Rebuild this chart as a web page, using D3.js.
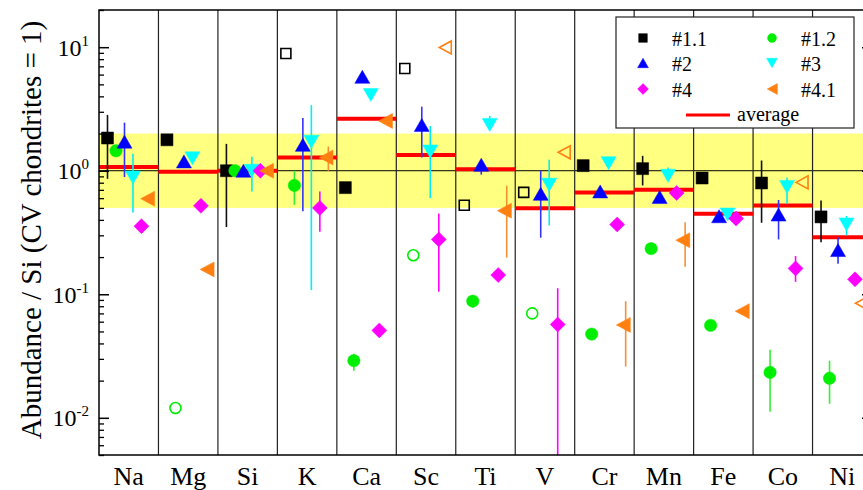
<!DOCTYPE html>
<html>
<head>
<meta charset="utf-8">
<script src="https://cdn.jsdelivr.net/npm/d3@7"></script>
</head>
<body style="margin:0;background:#fff">
<svg id="chart" width="863" height="490" style="display:block"></svg>
<script>
// Elements (columns)
const elements = ["Na", "Mg", "Si", "K", "Ca", "Sc", "Ti", "V", "Cr", "Mn", "Fe", "Co", "Ni"];

// Abundance / Si normalised to CV chondrites, per sample
const s11  = [1.84, 1.78, 1.0, 8.9, 0.73, 6.73, 0.525, 0.668, 1.10, 1.04, 0.873, 0.796, 0.423];
const s12  = [1.45, 0.012, 1.0, 0.76, 0.029, 0.207, 0.088, 0.070, 0.0476, 0.234, 0.056, 0.0233, 0.0209];
const s2   = [1.72, 1.19, 1.0, 1.62, 5.76, 2.35, 1.12, 0.65, 0.68, 0.614, 0.428, 0.442, 0.228];
const s3   = [0.88, 1.26, 1.0, 1.72, 4.1, 1.43, 2.35, 0.77, 1.15, 0.91, 0.442, 0.74, 0.367];
const s4   = [0.356, 0.52, 1.0, 0.50, 0.051, 0.278, 0.143, 0.057, 0.367, 0.66, 0.41, 0.162, 0.132];
const s41  = [0.594, 0.159, 1.0, 1.28, 2.53, 9.95, 0.475, 1.41, 0.0565, 0.274, 0.073, 0.805, 0.0846];
const average = [1.07, 0.98, 1.0, 1.28, 2.63, 1.34, 1.03, 0.497, 0.668, 0.703, 0.448, 0.522, 0.29];

// Error bar bounds (null = no bar)
const lo11 = [0.86, null, 0.35, null, null, null, null, null, null, 0.76, null, 0.379, 0.264];
const hi11 = [2.83, null, 1.65, null, null, null, null, null, null, 1.32, null, 1.21, 0.573];
const lo12 = [null, null, null, 0.53, 0.024, null, 0.078, null, null, null, null, 0.0112, 0.013];
const hi12 = [null, null, null, 1.0, 0.033, null, 0.096, null, null, null, null, 0.0356, 0.029];
const lo2  = [0.89, null, null, 0.47, null, 1.28, 0.93, 0.287, null, 0.58, 0.39, 0.278, 0.177];
const hi2  = [2.45, null, null, 2.67, null, 3.3, 1.15, 1.0, null, 0.65, 0.45, 0.58, 0.29];
const lo3  = [0.46, null, 0.68, 0.108, null, 0.60, 2.2, 0.36, null, 0.85, null, 0.54, 0.30];
const hi3  = [1.37, null, 1.30, 3.4, null, 2.3, 2.78, 1.23, null, 1.06, null, 0.88, 0.43];
const lo4  = [null, null, null, 0.32, null, 0.105, null, 0.003, null, null, null, 0.126, null];
const hi4  = [null, null, null, 0.68, null, 0.45, null, 0.112, null, null, null, 0.204, null];
const lo41 = [null, null, null, 1.0, null, null, 0.198, null, 0.026, 0.167, null, null, null];
const hi41 = [null, null, null, 1.57, null, null, 0.757, null, 0.088, 0.383, null, null, null];

// Hollow symbols (1 = open marker)
const open11 = [0, 0, 0, 1, 0, 1, 1, 1, 0, 0, 0, 0, 0];
const open12 = [0, 1, 0, 0, 0, 1, 0, 1, 0, 0, 0, 0, 0];
const open41 = [0, 0, 0, 0, 0, 1, 0, 1, 0, 0, 0, 1, 1];
const none   = elements.map(() => 0);

// Shaded reference range and axis ticks
const band = [0.5, 2];
const majorTicks = [0.01, 0.1, 1, 10];
const tickExp = ["-2", "-1", "0", "1"];

const series = [
  { key: "#1.1", v: s11, lo: lo11, hi: hi11, open: open11, shape: "square",  color: "#000000", bar: "#111111" },
  { key: "#1.2", v: s12, lo: lo12, hi: hi12, open: open12, shape: "circle",  color: "#00ee00", bar: "#33ee33" },
  { key: "#2",   v: s2,  lo: lo2,  hi: hi2,  open: none,   shape: "up",      color: "#0000ff", bar: "#3333ff" },
  { key: "#3",   v: s3,  lo: lo3,  hi: hi3,  open: none,   shape: "down",    color: "#00ffff", bar: "#00f0f0" },
  { key: "#4",   v: s4,  lo: lo4,  hi: hi4,  open: none,   shape: "diamond", color: "#ff00ff", bar: "#ff00ff" },
  { key: "#4.1", v: s41, lo: lo41, hi: hi41, open: open41, shape: "left",    color: "#ff8010", bar: "#f79030" }
];

const plot = { left: 99, right: 872, top: 10, bottom: 455 };
const svg = d3.select("#chart");

const x = d3.scaleBand().domain(elements).range([plot.left, plot.right]).padding(0);
const y = d3.scaleLog().domain([0.005, 20]).range([plot.bottom, plot.top]);
const bw = x.bandwidth();

svg.append("defs").append("clipPath").attr("id", "plotClip")
  .append("rect")
  .attr("x", plot.left).attr("y", plot.top)
  .attr("width", plot.right - plot.left).attr("height", plot.bottom - plot.top);

const g = svg.append("g").attr("clip-path", "url(#plotClip)");

// Yellow band between 0.5 and 2
g.append("rect")
  .attr("x", plot.left).attr("width", plot.right - plot.left)
  .attr("y", y(band[1])).attr("height", y(band[0]) - y(band[1]))
  .attr("fill", "#ffff80");

// Unity line
g.append("line")
  .attr("x1", plot.left).attr("x2", plot.right)
  .attr("y1", y(1)).attr("y2", y(1))
  .attr("stroke", "#000").attr("stroke-width", 1);

// Column separators
g.selectAll(".sep").data(elements.slice(1)).join("line")
  .attr("class", "sep")
  .attr("x1", d => x(d)).attr("x2", d => x(d))
  .attr("y1", plot.top).attr("y2", plot.bottom)
  .attr("stroke", "#222").attr("stroke-width", 1.2);

// Average per element
g.selectAll(".avg").data(elements).join("line")
  .attr("class", "avg")
  .attr("x1", d => x(d)).attr("x2", d => x(d) + bw)
  .attr("y1", (d, i) => y(average[i])).attr("y2", (d, i) => y(average[i]))
  .attr("stroke", "#ff0000").attr("stroke-width", 4);

// Symbol paths centred on the data point
function shapePath(shape, open, scale) {
  const k = scale || 1;
  if (shape === "square") {
    const s = (open ? 10 : 12) * k;
    return `M${-s / 2},${-s / 2}h${s}v${s}h${-s}Z`;
  }
  if (shape === "circle") {
    const r = (open ? 5.5 : 6.2) * k;
    return `M${r},0A${r},${r} 0 1,1 ${-r},0A${r},${r} 0 1,1 ${r},0Z`;
  }
  if (shape === "up") {
    const w = 15 * k, h = 13 * k;
    return `M0,${-h / 2}L${w / 2},${h / 2}L${-w / 2},${h / 2}Z`;
  }
  if (shape === "down") {
    const w = 15 * k, h = 13 * k;
    return `M0,${h / 2}L${w / 2},${-h / 2}L${-w / 2},${-h / 2}Z`;
  }
  if (shape === "diamond") {
    const s = 15 * k;
    return `M0,${-s / 2}L${s / 2},0L0,${s / 2}L${-s / 2},0Z`;
  }
  // left-pointing triangle, centroid on the point
  const w = (open ? 12 : 14) * k, h = (open ? 13 : 15) * k;
  return `M${-2 * w / 3},0L${w / 3},${-h / 2}L${w / 3},${h / 2}Z`;
}

series.forEach((s, si) => {
  const off = (si + 1) / 7 * bw;
  const pts = elements.map((e, i) => ({ e, i, v: s.v[i], lo: s.lo[i], hi: s.hi[i], open: s.open[i] === 1 }));

  g.selectAll(null).data(pts.filter(p => p.lo != null)).join("line")
    .attr("x1", p => x(p.e) + off).attr("x2", p => x(p.e) + off)
    .attr("y1", p => y(p.hi)).attr("y2", p => y(Math.max(p.lo, 0.001)))
    .attr("stroke", s.bar).attr("stroke-width", 1.6);

  g.selectAll(null).data(pts.filter(p => p.v != null)).join("path")
    .attr("transform", p => `translate(${x(p.e) + off},${y(p.v)})`)
    .attr("d", p => shapePath(s.shape, p.open))
    .attr("fill", p => p.open ? "none" : s.color)
    .attr("stroke", s.color)
    .attr("stroke-width", p => p.open ? 1.6 : 0.5);
});

// Frame
svg.append("rect")
  .attr("x", plot.left).attr("y", plot.top)
  .attr("width", plot.right - plot.left).attr("height", plot.bottom - plot.top)
  .attr("fill", "none").attr("stroke", "#000").attr("stroke-width", 1.5);

// Minor tick values for the log axis
const minorTicks = [];
for (let e = -3; e <= 1; e++) {
  for (let m = 2; m <= 9; m++) {
    const v = m * Math.pow(10, e);
    if (v >= 0.005 && v <= 20) minorTicks.push(v);
  }
}

function drawY(axisFn, xPos) {
  svg.append("g").attr("transform", `translate(${xPos},0)`)
    .call(axisFn(y).tickValues(majorTicks).tickSizeInner(-10).tickSizeOuter(0).tickFormat(() => ""))
    .call(a => a.select(".domain").remove())
    .call(a => a.selectAll("line").attr("stroke-width", 1.5));
  svg.append("g").attr("transform", `translate(${xPos},0)`)
    .call(axisFn(y).tickValues(minorTicks).tickSizeInner(-5).tickSizeOuter(0).tickFormat(() => ""))
    .call(a => a.select(".domain").remove())
    .call(a => a.selectAll("line").attr("stroke-width", 1.3));
}
drawY(d3.axisLeft, plot.left);
drawY(d3.axisRight, plot.right);

// Y tick labels as powers of ten
const yl = svg.append("g");
majorTicks.forEach((t, i) => {
  const txt = yl.append("text")
    .attr("x", plot.left - 10).attr("y", y(t) + 8.5)
    .attr("text-anchor", "end").attr("font-size", 24);
  txt.append("tspan").text("10");
  txt.append("tspan").attr("font-size", 15).attr("dy", -10).text(tickExp[i]);
});

// X axis labels
svg.append("g").attr("transform", `translate(0,${plot.bottom})`)
  .call(d3.axisBottom(x).tickSize(0).tickPadding(12))
  .call(a => a.select(".domain").remove())
  .call(a => a.selectAll("text").attr("font-size", 26).attr("fill", "#000"));

// Y axis title
svg.append("text")
  .attr("transform", "translate(41,230) rotate(-90)")
  .attr("text-anchor", "middle").attr("font-size", 29)
  .text("Abundance / Si (CV chondrites = 1)");

// Legend
const lg = svg.append("g");
lg.append("rect").attr("x", 616).attr("y", 17).attr("width", 238).attr("height", 111)
  .attr("fill", "#fff").attr("stroke", "#222").attr("stroke-width", 1.2);
const legPos = [[643, 38], [772, 38], [643, 63], [772, 63], [643, 89], [772, 89]];
series.forEach((s, i) => {
  const [lx, ly] = legPos[i];
  lg.append("path")
    .attr("transform", `translate(${lx + (s.shape === "left" ? 2 : 0)},${ly})`)
    .attr("d", shapePath(s.shape, false, 0.72))
    .attr("fill", s.color).attr("stroke", s.color).attr("stroke-width", 0.5);
  lg.append("text").attr("x", lx + 29).attr("y", ly + 7.5)
    .attr("font-size", 20).text(s.key);
});
lg.append("line").attr("x1", 686).attr("x2", 730).attr("y1", 115).attr("y2", 115)
  .attr("stroke", "#ff0000").attr("stroke-width", 3);
lg.append("text").attr("x", 737).attr("y", 121).attr("font-size", 20).text("average");

// Serif typeface for every label
svg.selectAll("text").style("font-family", "'Liberation Serif'").style("fill", "#000");
</script>
</body>
</html>
